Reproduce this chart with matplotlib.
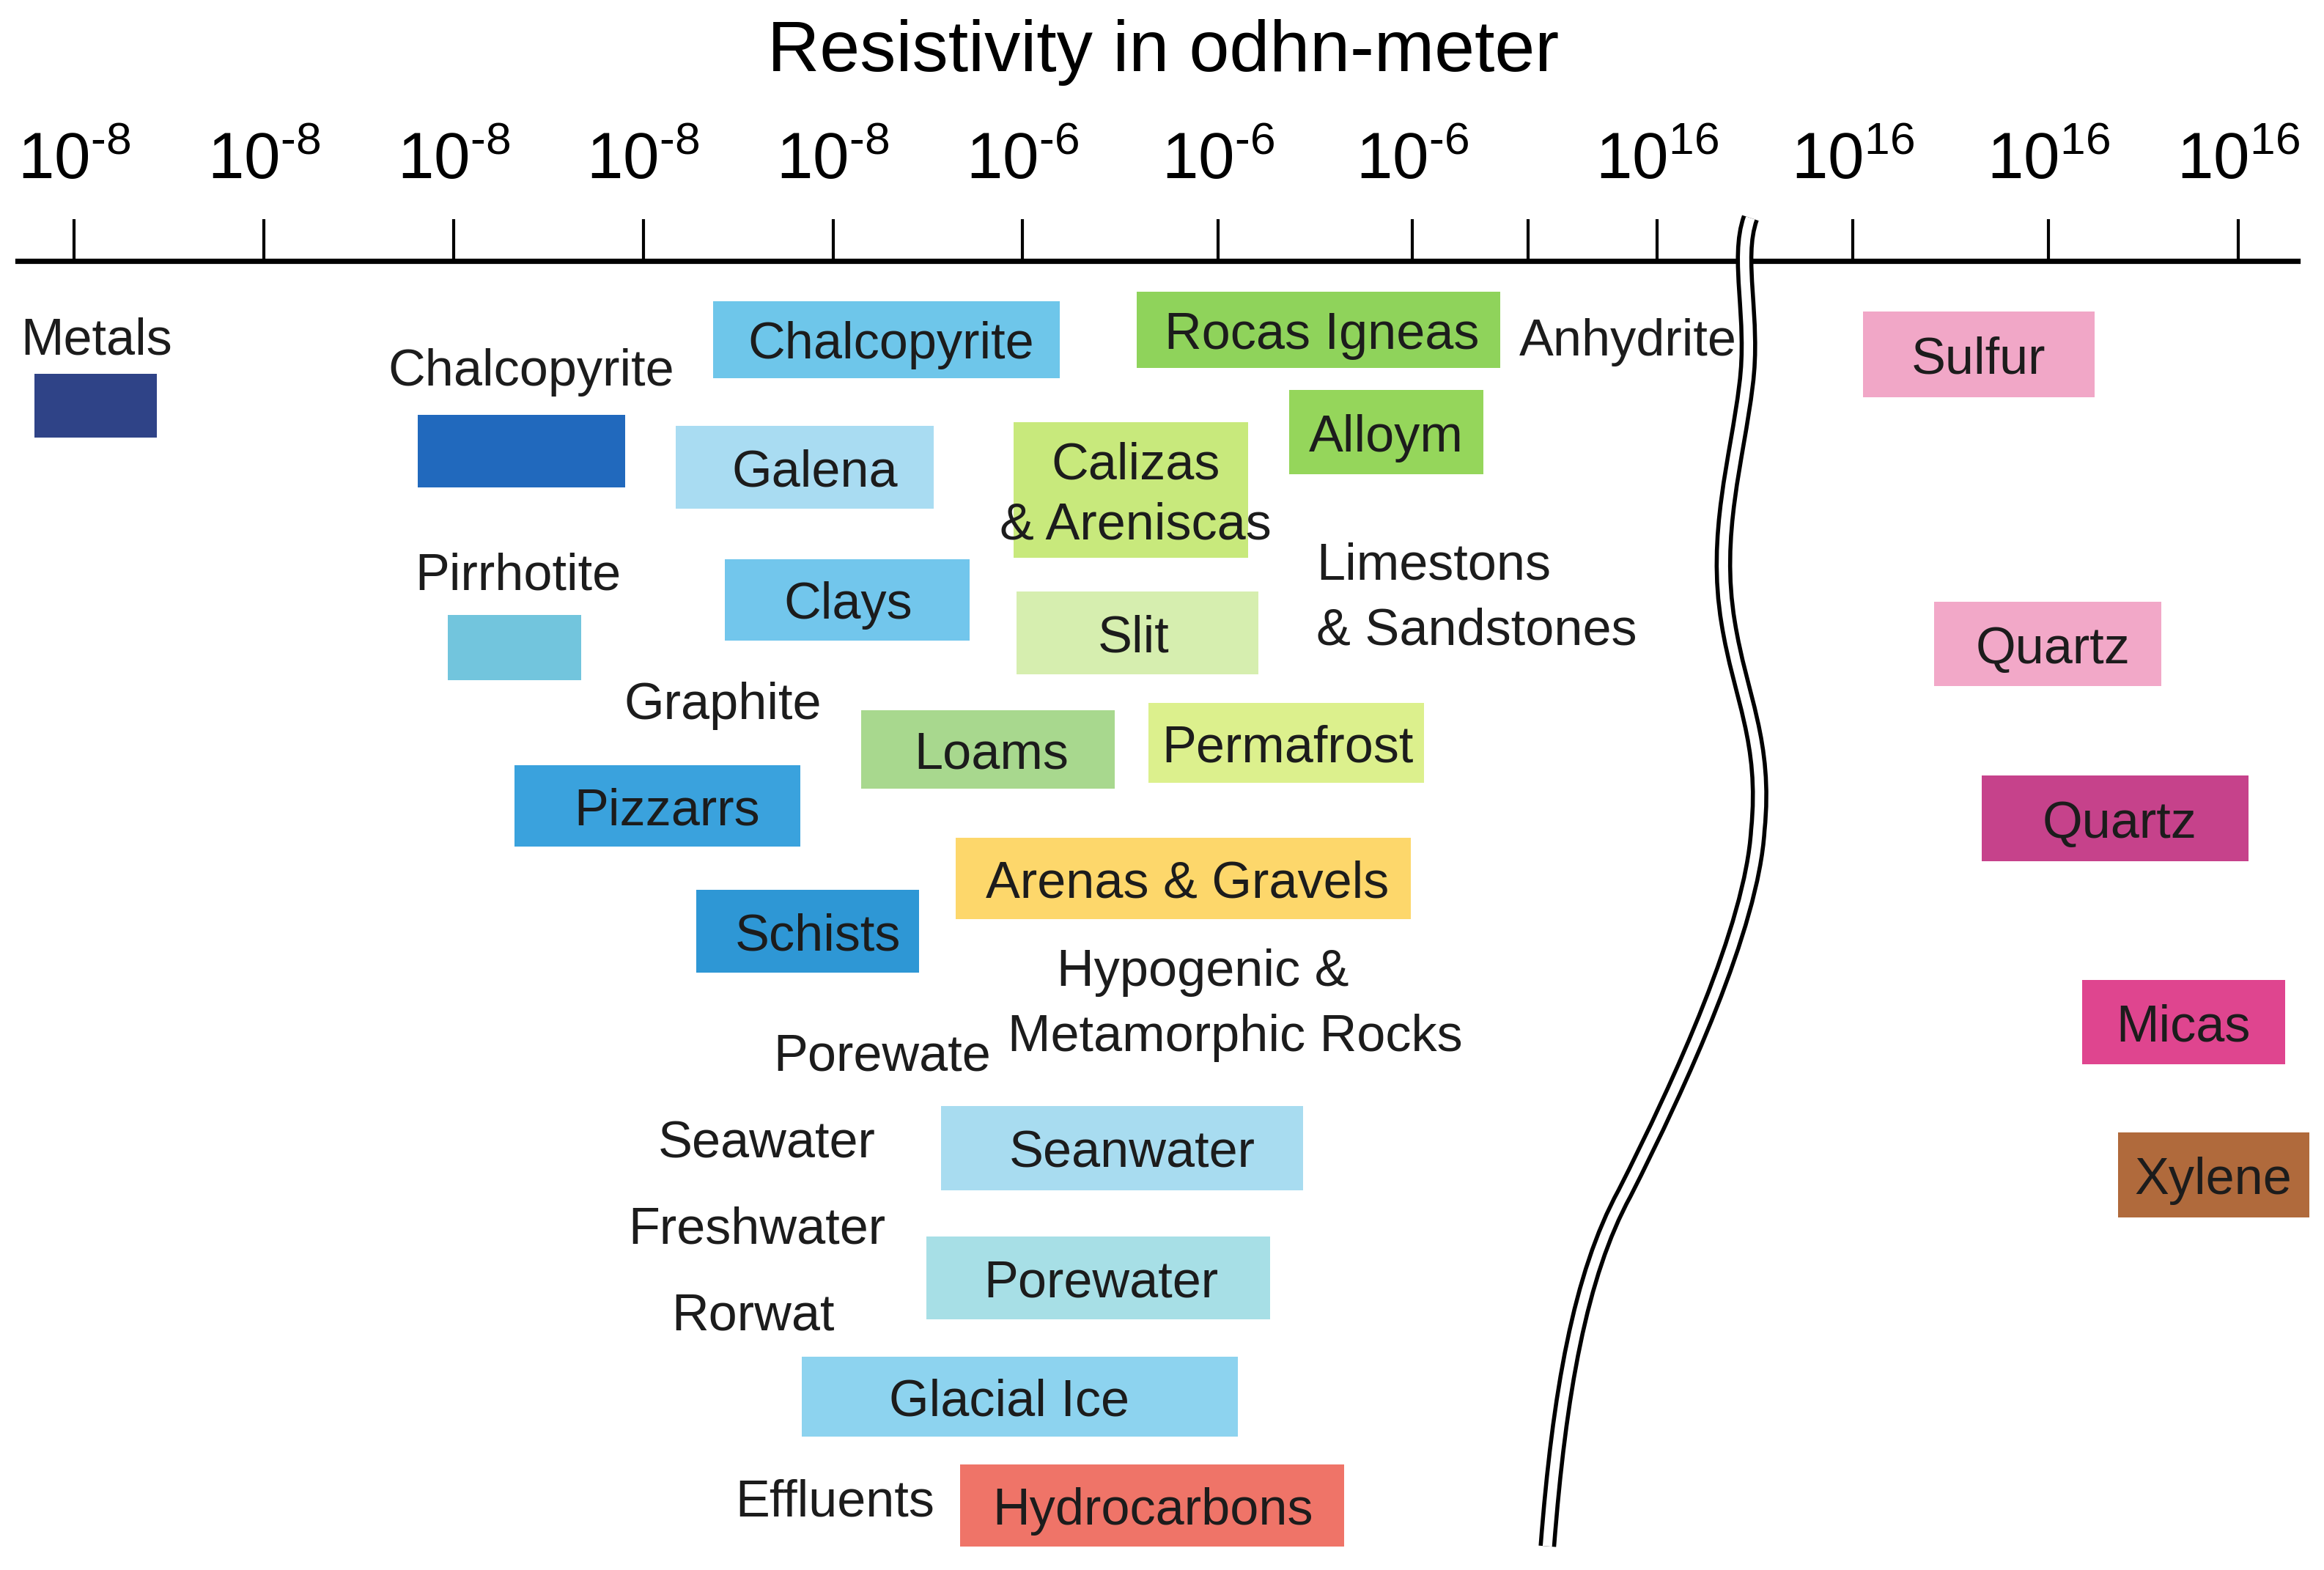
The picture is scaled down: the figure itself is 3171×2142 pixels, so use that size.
import matplotlib
matplotlib.use("Agg")
import matplotlib.pyplot as plt
from matplotlib.path import Path
from matplotlib.patches import PathPatch

plt.rcParams['font.family'] = ['Liberation Sans', 'DejaVu Sans']
plt.rcParams['mathtext.fontset'] = 'custom'
plt.rcParams['mathtext.rm'] = 'Liberation Sans'
plt.rcParams['mathtext.it'] = 'Liberation Sans:italic'

# --- scale (positions along the resistivity scale, chart units) ---
tick_pos = [50, 178, 306, 434, 562, 690, 822, 953, 1031, 1118, 1250, 1382, 1510]
tick_exp = ['-8', '-8', '-8', '-8', '-8', '-6', '-6', '-6', '', '16', '16', '16', '16']
title = "Resistivity in odhn-meter"

# --- material bars: range on the scale (lo, hi) and row band (top, bottom) ---
bar_names = ["", "", "", "Chalcopyrite", "Galena", "Clays", "Pizzarrs", "Schists",
             "Loams", "Rocas Igneas", "Alloym", "Calizas\n& Areniscas", "Slit",
             "Permafrost", "Arenas & Gravels", "Seanwater", "Porewater", "Glacial Ice",
             "Hydrocarbons", "Sulfur", "Quartz", "Quartz", "Micas", "Xylene"]
bar_lo = [23, 282, 302, 481, 456, 489, 347, 470, 581, 767, 870, 684, 686,
          775, 645, 635, 625, 541, 648, 1257, 1305, 1337, 1405, 1429]
bar_hi = [106, 422, 392, 715, 630, 654, 540, 620, 752, 1012, 1001, 842, 849,
          961, 952, 879, 857, 835, 907, 1413, 1458, 1517, 1542, 1558]
bar_top = [252, 280, 415, 203, 287, 377, 516, 600, 479, 197, 263, 285, 399,
           474, 565, 746, 834, 915, 988, 210, 406, 523, 661, 764]
bar_bot = [295, 329, 459, 255, 343, 432, 571, 656, 532, 248, 320, 376, 455,
           528, 620, 803, 890, 969, 1043, 268, 463, 581, 718, 821]
bar_colors = ['#2f4387', '#2169bd', '#72c5dd', '#6ec6ea', '#a9dcf2', '#72c6ec',
              '#3aa2dd', '#2e97d5', '#a8d88e', '#8fd35b', '#95d65b', '#c8e97c',
              '#d6eeaf', '#dcf08d', '#fdd76b', '#a8dcf0', '#a7dfe6', '#8dd3ef',
              '#ef7468', '#f1a7c7', '#f2a8c8', '#c6428b', '#df458f', '#b06a3c']
# label centre inside each bar (where the source places it slightly off-centre)
bar_text_x = [None, None, None, 601, 550, 572, 450, 552, 669, 892, 935, 766, 765,
              869, 801, 764, 743, 681, 778, 1335, 1385, 1430, 1473, 1493]

# --- free-standing labels (left edge, row centre) ---
free_labels = ["Metals", "Chalcopyrite", "Pirrhotite", "Graphite", "Anhydrite",
               "Limestons", "& Sandstones", "Hypogenic &", "Metamorphic Rocks",
               "Porewate", "Seawater", "Freshwater", "Rorwat", "Effluents"]
free_x = [14, 262, 280, 421, 1025, 888, 888, 713, 680, 522, 444, 424, 453, 496]
free_y = [227, 248, 386, 473, 228, 379, 423, 653, 697, 710, 769, 827, 885, 1011]

W, H = 1568, 1059
AXIS_Y = 176
TXT = '#1c1c1c'
FS = 25.3

fig = plt.figure(figsize=(15.855, 10.71), dpi=200)
ax = fig.add_axes([12 / W, 0, (1550 - 12) / W, 1 - AXIS_Y / H])
ax.set_xlim(12, 1550)
ax.set_ylim(H, AXIS_Y)

for side in ['left', 'right', 'bottom']:
    ax.spines[side].set_visible(False)
ax.spines['top'].set_linewidth(2.6)
ax.xaxis.tick_top()
ax.set_xticks(tick_pos)
ax.set_xticklabels([r'$\mathregular{10^{%s}}$' % e.replace('-', '\u2010') if e else ''
                    for e in tick_exp])
ax.tick_params(axis='x', direction='out', length=20.5, width=1.5, pad=13,
               labelsize=32, colors='black')
ax.set_yticks([])

ax.barh([(t + b) / 2 for t, b in zip(bar_top, bar_bot)],
        [h - l for l, h in zip(bar_lo, bar_hi)],
        left=bar_lo, height=[b - t for t, b in zip(bar_top, bar_bot)],
        color=bar_colors, edgecolor='none', clip_on=False, zorder=2)

for name, tx, t, b in zip(bar_names, bar_text_x, bar_top, bar_bot):
    if name:
        ax.text(tx, (t + b) / 2 + 4, name, ha='center', va='center',
                fontsize=FS, color=TXT, linespacing=1.3, zorder=3, clip_on=False)

for s, x, y in zip(free_labels, free_x, free_y):
    ax.text(x, y + 3, s, ha='left', va='center', fontsize=FS, color=TXT,
            zorder=3, clip_on=False)

ax.text(785, 48, title, ha='center', va='baseline', fontsize=35.5,
        color='black', clip_on=False)

# scale break (double wavy line): thick black stroke with a white core
verts = [(1181, 147), (1171, 175), (1184, 215), (1178, 260),
         (1172, 310), (1156, 360), (1166, 420),
         (1174, 470), (1192, 500), (1186, 560),
         (1182, 625), (1134, 730), (1096, 805),
         (1066, 860), (1052, 940), (1044, 1043)]
codes = [Path.MOVETO] + [Path.CURVE4] * (len(verts) - 1)
brk = Path(verts, codes)
ax.add_patch(PathPatch(brk, fill=False, edgecolor='black', lw=8.6,
                       capstyle='butt', zorder=5, clip_on=False))
ax.add_patch(PathPatch(brk, fill=False, edgecolor='white', lw=4.6,
                       capstyle='butt', zorder=6, clip_on=False))

fig.savefig("out.png", dpi=200, facecolor='white')
